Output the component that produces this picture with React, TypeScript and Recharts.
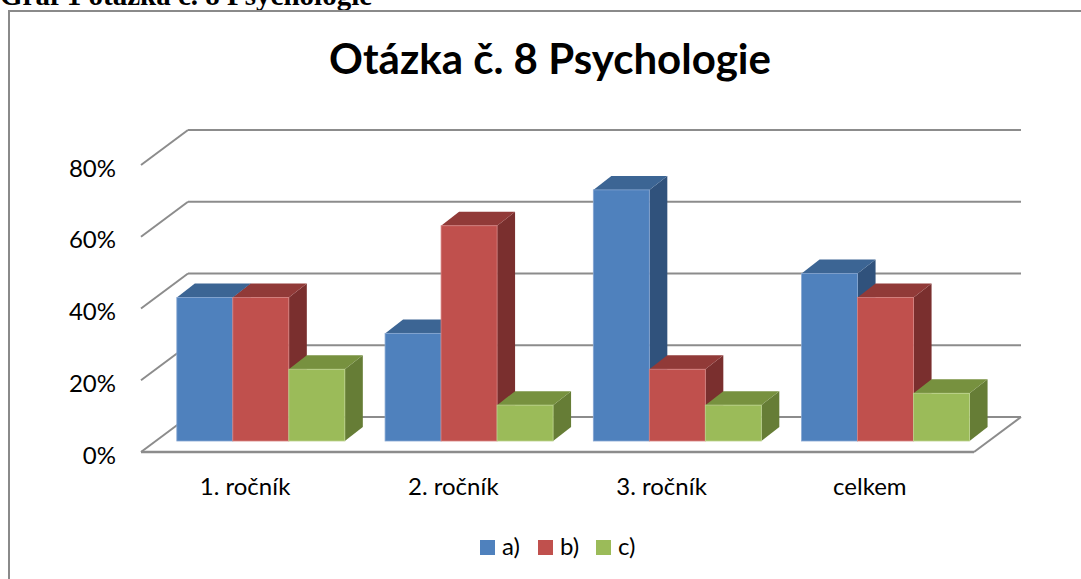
import React from "react";
import { BarChart, Bar, XAxis, YAxis, CartesianGrid } from "recharts";

const categories = ["1. ročník", "2. ročník", "3. ročník", "celkem"];
const seriesA = [40, 30, 70, 46.7];
const seriesB = [40, 60, 20, 40];
const seriesC = [20, 10, 10, 13.3];
const yTicks = [0, 20, 40, 60, 80];
const seriesNames = ["a)", "b)", "c)"];

const data = categories.map((name, i) => ({ name, a: seriesA[i], b: seriesB[i], c: seriesC[i] }));

const FONT = "Lato, 'Open Sans', sans-serif";
const W = 1081;
const H = 579;
const MARGIN = { top: 154, left: 96, right: 92, bottom: 108 };
const PLOT_BOTTOM = H - MARGIN.bottom - 30;

// 3D offsets (bar plane -> back wall / front edge, and bar depth)
const BACK_DX = 32;
const BACK_DY = -24;
const FRONT_DX = -15;
const FRONT_DY = 11;
const BAR_DX = 18;
const BAR_DY = -14;

const faces = [
  { front: "#4F81BD", top: "#3C6594", side: "#30527C", edge: "#86a6d2" },
  { front: "#C0504D", top: "#913A38", side: "#7A2F2E", edge: "#d68280" },
  { front: "#9BBB59", top: "#77913F", side: "#667D36", edge: "#bcd38d" },
];

const GRID = "#8c8c8c";

function Box3D(props: any) {
  const { x, y, width, height, c } = props;
  if (!height || height <= 0) return null;
  const r = x + width;
  const b = y + height;
  return (
    <g>
      <polygon
        points={`${r},${y} ${r + BAR_DX},${y + BAR_DY} ${r + BAR_DX},${b + BAR_DY} ${r},${b}`}
        fill={c.side}
      />
      <polygon
        points={`${x},${y} ${x + BAR_DX},${y + BAR_DY} ${r + BAR_DX},${y + BAR_DY} ${r},${y}`}
        fill={c.top}
      />
      <rect x={x} y={y} width={width} height={height} fill={c.front} stroke={c.edge} strokeWidth={0.8} />
    </g>
  );
}

function gridLine(p: any) {
  const { x1, x2, y1, index } = p;
  const floor = Math.abs(y1 - PLOT_BOTTOM) < 2;
  const fy = y1 + FRONT_DY;
  const by = y1 + BACK_DY;
  return (
    <g key={`grid-${index}`} stroke={GRID} strokeWidth={2} fill="none">
      <line x1={x1 + FRONT_DX} y1={fy} x2={x1 + BACK_DX} y2={by} />
      <line x1={x1 + BACK_DX} y1={by} x2={x2 + BACK_DX} y2={by} />
      {floor && <line x1={x1 + FRONT_DX} y1={fy} x2={x2 + FRONT_DX} y2={fy} strokeWidth={2.5} />}
      {floor && <line x1={x2 + FRONT_DX} y1={fy} x2={x2 + BACK_DX} y2={by} />}
    </g>
  );
}

function XTick(props: any) {
  const { x, y, payload } = props;
  return (
    <text x={x + FRONT_DX} y={y + 54} textAnchor="middle" fontFamily={FONT} fontSize={24} fill="#000">
      {payload.value}
    </text>
  );
}

function YTick(props: any) {
  const { x, y, payload } = props;
  return (
    <text x={x - 40} y={y + FRONT_DY + 11.5} textAnchor="end" fontFamily={FONT} fontSize={24} fill="#000">
      {`${payload.value}%`}
    </text>
  );
}

export default function App() {
  const keys = ["a", "b", "c"];
  return (
    <div style={{ position: "absolute", left: 0, top: 0, width: W, height: H, overflow: "hidden", background: "#fff" }}>
      <BarChart width={W} height={H} data={data} margin={MARGIN} barCategoryGap="10%" barGap={0}>
        <CartesianGrid vertical={false} horizontal={gridLine} />
        <XAxis dataKey="name" axisLine={false} tickLine={false} tickSize={0} tickMargin={0} tick={<XTick />} interval={0} />
        <YAxis
          domain={[0, 80]}
          ticks={yTicks}
          axisLine={false}
          tickLine={false}
          tickSize={0}
          tickMargin={0}
          width={60}
          tick={<YTick />}
        />
        {keys.map((k, i) => (
          <Bar key={k} dataKey={k} name={seriesNames[i]} isAnimationActive={false} shape={(p: any) => <Box3D {...p} c={faces[i]} />} />
        ))}
      </BarChart>
      <svg width={W} height={H} style={{ position: "absolute", left: 0, top: 0, pointerEvents: "none" }}>
        <text x={0} y={5} fontFamily="'Liberation Serif', serif" fontWeight="bold" fontSize={29} fill="#000">
          Graf 1 otázka č. 8 Psychologie
        </text>
        <rect x={9} y={11} width={1200} height={700} fill="none" stroke="#8a8a8a" strokeWidth={2} />
        <text x={550} y={74} textAnchor="middle" fontFamily={FONT} fontWeight="bold" fontSize={42} fill="#000">
          Otázka č. 8 Psychologie
        </text>
        {seriesNames.map((n, i) => (
          <g key={n}>
            <rect x={480 + i * 58} y={540} width={15} height={15} fill={faces[i].front} />
            <text x={502 + i * 58} y={555} fontFamily={FONT} fontSize={24} fill="#000">
              {n}
            </text>
          </g>
        ))}
      </svg>
    </div>
  );
}
